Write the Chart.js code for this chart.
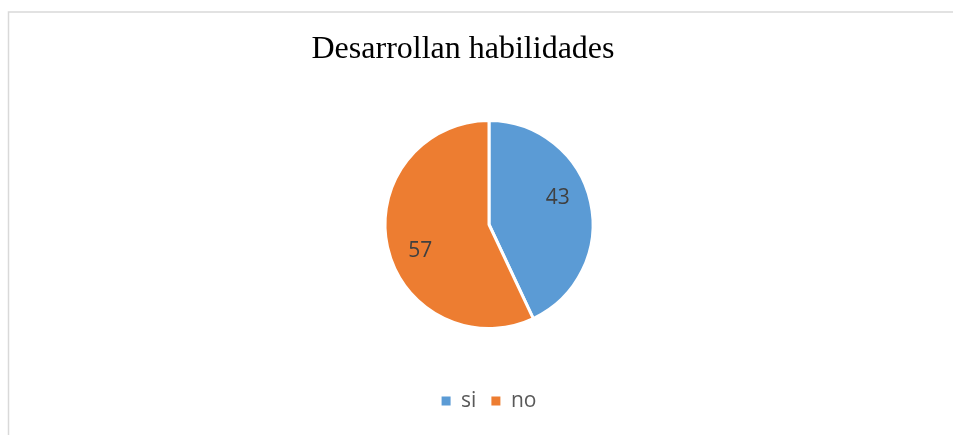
<!DOCTYPE html>
<html>
<head>
<meta charset="utf-8">
<script src="https://cdn.jsdelivr.net/npm/chart.js@4"></script>
<style>
  html, body { margin: 0; padding: 0; background: #fff; }
  #wrap { position: relative; width: 953px; height: 435px; overflow: hidden; }
</style>
</head>
<body>
<div id="wrap"><canvas id="pieChart" width="953" height="435"></canvas></div>
<script>
const chartTitle = 'Desarrollan habilidades';
const categories = ['si', 'no'];
const values = [43, 57];

document.addEventListener('DOMContentLoaded', function() {
  const ctx = document.getElementById('pieChart').getContext('2d');

  // light grey frame around the chart, like the office chart border
  const framePlugin = {
    id: 'frame',
    beforeDraw(chart) {
      const c = chart.ctx;
      c.save();
      c.strokeStyle = '#d9d9d9';
      c.lineWidth = 1.5;
      c.strokeRect(8.5, 12, chart.width + 20, chart.height + 20);
      c.restore();
    }
  };

  // title is a bit left of the pie centre in the original
  const titlePlugin = {
    id: 'sideTitle',
    afterDraw(chart) {
      const c = chart.ctx;
      c.save();
      c.font = '32px "Liberation Serif", "Times New Roman", serif';
      c.fillStyle = '#000000';
      c.textAlign = 'center';
      c.textBaseline = 'alphabetic';
      c.fillText(chartTitle, 463, 58);
      c.restore();
    }
  };

  // value labels inside each slice (excel "best fit" sits a little before mid angle)
  const valueLabels = {
    id: 'valueLabels',
    afterDatasetsDraw(chart) {
      const c = chart.ctx;
      const meta = chart.getDatasetMeta(0);
      c.save();
      c.font = '21px "Open Sans", sans-serif';
      c.fillStyle = '#404040';
      c.textAlign = 'center';
      c.textBaseline = 'middle';
      meta.data.forEach((arc, i) => {
        const p = arc.getProps(['x', 'y', 'startAngle', 'endAngle', 'outerRadius'], true);
        const mid = (p.startAngle + p.endAngle) / 2 - 0.15;
        const d = p.outerRadius * 0.71;
        c.fillText(String(values[i]), p.x + Math.cos(mid) * d, p.y + Math.sin(mid) * d);
      });
      c.restore();
    }
  };

  new Chart(ctx, {
    type: 'pie',
    data: {
      labels: categories,
      datasets: [{
        data: values,
        backgroundColor: ['#5b9bd5', '#ed7d31'],
        borderColor: '#ffffff',
        borderWidth: 3,
        radius: 104
      }]
    },
    options: {
      responsive: false,
      animation: false,
      events: [],
      layout: { padding: { left: 25, right: 0, top: 73.5, bottom: 13.5 } },
      plugins: {
        title: { display: false },
        tooltip: { enabled: false },
        legend: {
          position: 'bottom',
          labels: {
            boxWidth: 9,
            boxHeight: 9,
            padding: 15,
            color: '#595959',
            font: { family: '"Open Sans", sans-serif', size: 21 },
            generateLabels(chart) {
              const items = Chart.overrides.pie.plugins.legend.labels.generateLabels(chart);
              items.forEach(it => { it.lineWidth = 0; });
              return items;
            }
          }
        }
      }
    },
    plugins: [framePlugin, valueLabels, titlePlugin]
  });
});
</script>
</body>
</html>
